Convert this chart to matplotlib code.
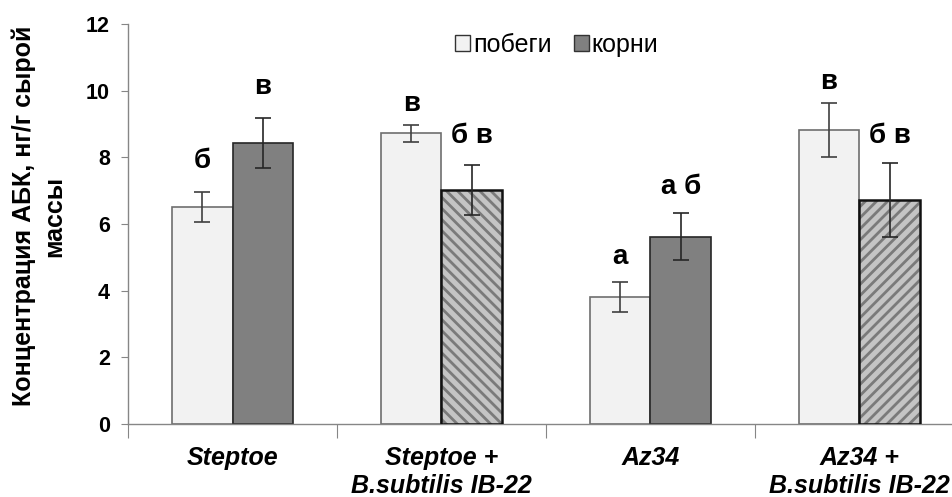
import numpy as np
import matplotlib
matplotlib.use('Agg')
import matplotlib.pyplot as plt
from matplotlib.patches import Patch

plt.rcParams['font.family'] = ['Liberation Sans', 'DejaVu Sans']
plt.rcParams['hatch.linewidth'] = 2.0

groups = ['Steptoe', 'Steptoe +\nB.subtilis IB-22', 'Az34', 'Az34 +\nB.subtilis IB-22']
shoots = [6.5, 8.72, 3.82, 8.82]
shoots_err = [0.45, 0.25, 0.45, 0.8]
roots = [8.42, 7.02, 5.62, 6.72]
roots_err = [0.75, 0.75, 0.7, 1.1]
roots_hatch = ['', '\\\\\\', '', '///']
shoots_letters = ['б', 'в', 'а', 'в']
roots_letters = ['в', 'б в', 'а б', 'б в']
shoots_letter_y = [7.9, 9.6, 5.0, 10.25]
roots_letter_y = [10.1, 8.65, 7.1, 8.65]

fig = plt.figure(figsize=(9.52, 4.97), dpi=100)
ax = fig.add_axes([0.1345, 0.1469, 0.878, 0.8048])

x = np.arange(len(groups))
w = 0.29
xs = x - w / 2
xr = x + w / 2

ax.bar(xs, shoots, w, color='#f2f2f2', edgecolor='#6e6e6e', linewidth=1.2, zorder=2)
ax.errorbar(xs, shoots, yerr=shoots_err, fmt='none', ecolor='#404040', elinewidth=1.2, capsize=6, capthick=1.2, zorder=4)

for i in range(len(groups)):
    if roots_hatch[i]:
        ax.bar(xr[i], roots[i], w, color='#c4c4c4', edgecolor='#7a7a7a', linewidth=0, hatch=roots_hatch[i], zorder=2)
        ax.bar(xr[i], roots[i], w, fill=False, edgecolor='#111111', linewidth=1.8, zorder=3)
    else:
        ax.bar(xr[i], roots[i], w, color='#808080', edgecolor='#262626', linewidth=1.2, zorder=2)
ax.errorbar(xr, roots, yerr=roots_err, fmt='none', ecolor='#262626', elinewidth=1.2, capsize=6, capthick=1.2, zorder=4)

for i in range(len(groups)):
    ax.text(xs[i], shoots_letter_y[i], shoots_letters[i], ha='center', va='center', fontsize=20, fontweight='bold')
    ax.text(xr[i], roots_letter_y[i], roots_letters[i], ha='center', va='center', fontsize=20, fontweight='bold')

ax.set_xlim(-0.5, 3.5)
ax.set_ylim(0, 12)
ax.set_yticks(np.arange(0, 13, 2))
ax.set_yticklabels([str(v) for v in range(0, 13, 2)], fontsize=15.5, fontweight='bold')

ax.set_xticks([-0.5, 0.5, 1.5, 2.5])
ax.set_xticklabels([])
ax.set_xticks(x, minor=True)
ax.set_xticklabels(groups, minor=True, fontsize=18, fontweight='bold', style='italic', linespacing=1.2)
ax.tick_params(axis='x', which='major', direction='out', length=10, color='#868686')
ax.tick_params(axis='x', which='minor', length=0, pad=16)
ax.tick_params(axis='y', direction='out', length=5, color='#868686', pad=8)

for s in ['top', 'right']:
    ax.spines[s].set_visible(False)
for s in ['left', 'bottom']:
    ax.spines[s].set_color('#868686')
    ax.spines[s].set_linewidth(1.0)

ax.set_ylabel('Концентрация АБК, нг/г сырой\nмассы', fontsize=18, fontweight='bold', linespacing=1.3)
ax.yaxis.set_label_coords(-0.074, 0.52)

handles = [Patch(facecolor='#f2f2f2', edgecolor='#333333', linewidth=1.0),
           Patch(facecolor='#808080', edgecolor='#333333', linewidth=1.0)]
fig.legend(handles, ['побеги', 'корни'], loc='center', bbox_to_anchor=(0.585, 0.91), ncol=2, frameon=False,
           fontsize=18, handlelength=0.6, handleheight=0.6, handletextpad=0.1, columnspacing=0.9)

fig.savefig('out.png', dpi=100)
